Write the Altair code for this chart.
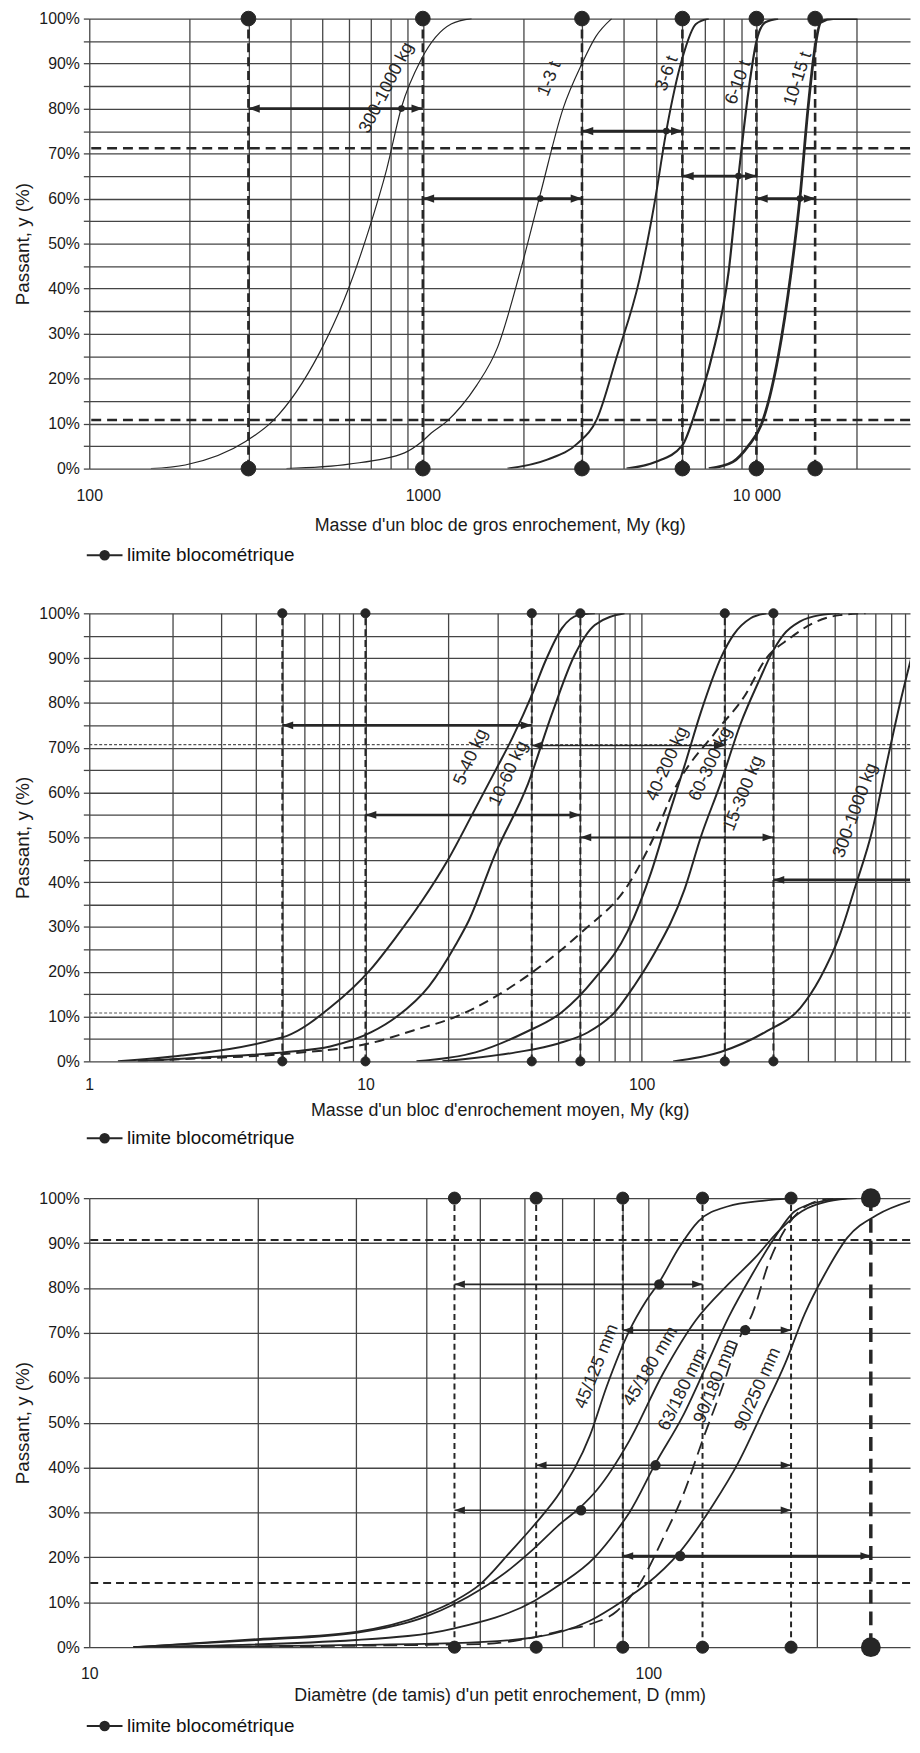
import altair as alt
import pandas as pd

FONT = "Liberation Sans"
INK = "#262626"
GRID = "#454545"
LEGEND_NAME = "limite blocométrique"
LEGEND_SYMBOL = "M-1,0L1,0M-0.24,0A0.24,0.24,0,1,1,0.24,0A0.24,0.24,0,1,1,-0.24,0Z"
RIGHT_HEAD = "M1,0L-1,-0.72L-1,0.72Z"
LEFT_HEAD = "M-1,0L1,-0.72L1,0.72Z"
PLOT_W = 828

# ======================= Panel 1 : gros enrochement (kg) =======================
p1_x_grid = [100, 200, 300, 400, 500, 600, 700, 800, 900, 1000,
             2000, 3000, 4000, 5000, 6000, 7000, 8000, 9000, 10000, 20000]
p1_y_grid = list(range(0, 101, 5))

c1_300_1000_m = [153, 194, 295, 355, 489, 580, 689, 779, 863, 990, 1216, 1400]
c1_300_1000_p = [0, 0.8, 6.1, 10.6, 25.6, 37.4, 53.1, 66.5, 80.3, 91, 98.8, 100]
c1_1_3_m = [390, 600, 881, 990, 1060, 1180, 1301, 1450, 1676, 1962, 2250, 2633, 3000, 3300, 3683]
c1_1_3_p = [0, 1, 3.5, 5.9, 7.9, 10.5, 13.8, 18.5, 27, 44, 61, 80, 90, 96, 100]
c1_3_6_m = [1795, 2360, 2898, 3325, 3812, 4460, 4950, 5369, 5988, 6590, 7200]
c1_3_6_p = [0, 2, 5.5, 11, 24.8, 42, 59, 75, 91, 98.8, 100]
c1_6_10_m = [4080, 5000, 5988, 6590, 7350, 8255, 8840, 9470, 10000, 10640, 11620]
c1_6_10_p = [0, 1.5, 5.1, 13, 24.8, 43.7, 65, 83.9, 94.9, 99.2, 100]
c1_10_15_m = [7200, 8500, 9470, 10350, 11620, 12710, 13510, 14280, 14970, 15600, 17000, 20100]
c1_10_15_p = [0, 1.5, 5.1, 9.8, 24.8, 43.7, 60.2, 80, 93.3, 99.2, 100, 100]

p1_limits = [300, 1000, 3000, 6000, 10000, 15000]
p1_hlines = [71.2, 10.8]
p1_arrow_from = [300, 1000, 3000, 6000, 10000]
p1_arrow_to = [1000, 3000, 6000, 10000, 15000]
p1_arrow_y = [80, 60, 75, 65, 60]
p1_arrow_w = [2.6, 2.6, 2.6, 2.6, 2.6]
p1_arrow_right = [1, 1, 1, 1, 1]
p1_arrow_dot = [863, 2250, 5369, 8840, 13510]
p1_label_text = ["300-1000 kg", "1-3 t", "3-6 t", "6-10 t", "10-15 t"]
p1_label_x = [779, 2400, 5400, 8842, 13340]
p1_label_y = [84.6, 86.6, 87.8, 85.8, 86.6]
p1_label_angle = [297, 292, 290, 290, 288]

# ======================= Panel 2 : enrochement moyen (kg) =======================
p2_x_grid = [1, 2, 3, 4, 5, 6, 7, 8, 9, 10, 20, 30, 40, 50, 60, 70, 80, 90,
             100, 200, 300, 400, 500, 600, 700, 800, 900]
p2_y_grid = list(range(0, 101, 5))

c2_5_40_m = [1.27, 2.16, 4.69, 5.2, 7.45, 10.5, 13, 15.9, 19.9, 24.5, 29.6, 34.1, 40.2, 44.8, 51.5, 58.9, 67.7]
c2_5_40_p = [0, 1.3, 4.9, 5.7, 12, 20.7, 28, 35.5, 45, 55.4, 65, 72.3, 82, 89.3, 96.7, 99.6, 100]
c2_10_60_m = [1.5, 2.5, 5.2, 7.45, 10.5, 13, 17, 21.3, 23.7, 29.6, 38.8, 47.3, 57.3, 67.7, 86.7]
c2_10_60_p = [0, 0.8, 2.1, 3.3, 6.5, 10, 16.8, 26.2, 31.5, 46.5, 62, 77.5, 90.8, 97.4, 100]
c2_15_300_m = [1.5, 2.2, 5.2, 10.5, 14.9, 21.3, 38.8, 60.5, 88.9, 111, 131, 187, 234, 283, 345, 417, 521, 647]
c2_15_300_p = [0, 0.5, 1.7, 4.1, 6.9, 10, 19.2, 28.8, 39.2, 50.2, 60.5, 73.8, 81.2, 90, 94.5, 97.8, 99.6, 100]
c2_40_200_m = [15.3, 25, 38, 51.5, 67.7, 88.9, 108, 124, 143, 164, 195, 215, 248, 283]
c2_40_200_p = [0, 2, 6.5, 11, 18.5, 29, 42, 54, 66, 78, 90.5, 95.2, 98.9, 100]
c2_60_300_m = [19, 35, 50, 64, 80, 94.3, 111, 143, 164, 193, 228, 269, 292, 326, 375, 442, 521]
c2_60_300_p = [0, 2, 4, 6.5, 11, 17, 24, 38.4, 50.2, 62, 75.3, 85.6, 90.4, 95.2, 98.2, 99.6, 100]
c2_300_1000_m = [130, 193, 283, 375, 442, 521, 595, 685, 762, 855, 953]
c2_300_1000_p = [0, 2.1, 6.7, 11.9, 18.5, 28.1, 39.2, 51.7, 65, 79, 90.8]

p2_limits = [5, 10, 40, 60, 200, 300]
p2_hlines = [70.7, 10.8]
p2_arrow_from = [5, 10, 40, 60, 300]
p2_arrow_to = [40, 60, 200, 300, 1000]
p2_arrow_y = [75, 55, 70.5, 50, 40.5]
p2_arrow_w = [2.6, 2.6, 1.3, 1.6, 2.6]
p2_arrow_right = [1, 1, 1, 1, 0]
p2_label_text = ["5-40 kg", "10-60 kg", "40-200 kg", "60-300 kg", "15-300 kg", "300-1000 kg"]
p2_label_x = [24.1, 33, 124, 178, 234, 595]
p2_label_y = [67.9, 64.2, 66.4, 66.4, 59.8, 56]
p2_label_angle = [294, 295, 294, 295, 292, 290]

# ======================= Panel 3 : petit enrochement (mm) =======================
p3_x_grid = [10, 20, 30, 40, 50, 60, 70, 80, 90, 100, 200]
p3_y_grid = list(range(0, 101, 10))

c3_45_125_m = [12, 20, 30, 40, 45, 50, 56.7, 62.5, 69.6, 78.6, 84.2, 92.5, 99.2, 104.6, 113.5, 123, 139, 160, 183]
c3_45_125_p = [0, 1.8, 3.4, 7.4, 10.3, 14, 21.3, 27.2, 34.6, 47.1, 58, 70.5, 77.2, 81.3, 89, 94.9, 98.2, 99.4, 100]
c3_45_180_m = [12, 20, 30, 40, 45, 50, 56.7, 62.5, 69.6, 75.8, 80.9, 92.5, 106.3, 121.6, 139.2, 155.4, 170.8, 188.2, 209.5, 236]
c3_45_180_p = [0, 1.6, 3.2, 6.8, 9.6, 12.8, 17.5, 22, 27.5, 31.3, 35, 46, 61, 72.8, 80.9, 86.8, 92.6, 97.1, 99.3, 100]
c3_63_180_m = [12, 30, 45, 62.5, 69.6, 80, 87.8, 92.5, 103.3, 115.3, 126.8, 139.2, 153.5, 166.6, 182.8, 204, 227]
c3_63_180_p = [0, 1.6, 4.2, 10.3, 14, 19.9, 26, 30, 41.2, 51.5, 62.5, 73.5, 83.1, 90.4, 97.1, 99.3, 100]
c3_90_180_m = [12, 50, 62.5, 70, 78.6, 87.8, 96.4, 106.3, 115.3, 125.2, 135.8, 145, 153.5, 163.9, 177.8, 196, 214]
c3_90_180_p = [0, 0.7, 2.2, 3.7, 5.1, 8, 14, 24.3, 33.8, 46.3, 58.1, 68.4, 74.3, 85.3, 94.1, 98.9, 100]
c3_90_250_m = [12, 45, 62.5, 78.6, 90, 99.2, 113.5, 130.4, 145, 159.8, 175.7, 190.5, 206.9, 227, 256.8, 298.5]
c3_90_250_p = [0, 0.9, 2.2, 5.9, 10.3, 14, 21, 31.6, 41.2, 52.2, 63.2, 74.3, 83.1, 91.2, 96.3, 99.6]

p3_limits = [45, 63, 90, 125, 180]
p3_big_limits = [250]
p3_hlines = [90.7, 14.3]
p3_arrow_from = [45, 90, 63, 45, 90]
p3_arrow_to = [125, 180, 180, 180, 250]
p3_arrow_y = [80.8, 70.6, 40.5, 30.5, 20.3]
p3_arrow_w = [1.6, 1.6, 1.6, 1.6, 2.6]
p3_arrow_right = [1, 1, 1, 1, 1]
p3_arrow_dot = [104.6, 149, 103, 75.8, 114]
p3_label_text = ["45/125 mm", "45/180 mm", "63/180 mm", "90/180 mm", "90/250 mm"]
p3_label_x = [80.9, 101, 115.3, 132, 157]
p3_label_y = [62.5, 62.5, 57.4, 59.2, 57.4]
p3_label_angle = [292, 301, 296, 292, 294]


def xenc(field, P):
    return alt.X(f"{field}:Q",
                 scale=alt.Scale(type="log", domain=P["xdomain"], nice=False, zero=False),
                 axis=alt.Axis(values=P["xgrid"], labelExpr=P["xlabels"], title=P["xtitle"],
                               grid=True, ticks=False, domain=False, labelOverlap=False,
                               labelFlush=False, labelPadding=P["xlabpad"],
                               titlePadding=P["xtitlepad"]))


def yenc(field, P):
    return alt.Y(f"{field}:Q",
                 scale=alt.Scale(domain=[0, 100], nice=False, zero=False),
                 axis=alt.Axis(values=P["ygrid"],
                               labelExpr="datum.value % 10 == 0 ? datum.value + '%' : ''",
                               title="Passant, y (%)", grid=True, tickSize=6, domain=False,
                               labelOverlap=False, labelPadding=4, titlePadding=6))


def build_panel(P):
    layers = []
    hdf = pd.DataFrame({"y": P["hlines"]})
    layers.append(alt.Chart(hdf).mark_rule(color=P["hcolor"], strokeWidth=P["hwidth"],
                                           strokeDash=P["hdash"]).encode(y=yenc("y", P)))
    n = len(P["limits"])
    ldf = pd.DataFrame({"x": P["limits"], "y0": [0] * n, "y1": [100] * n})
    layers.append(alt.Chart(ldf).mark_rule(color=INK, strokeWidth=P["lwidth"],
                                           strokeDash=P["ldash"]).encode(
        x=xenc("x", P), y=yenc("y0", P), y2=alt.Y2("y1")))
    if P.get("big"):
        nb = len(P["big"])
        bdf = pd.DataFrame({"x": P["big"], "y0": [0] * nb, "y1": [100] * nb})
        layers.append(alt.Chart(bdf).mark_rule(color=INK, strokeWidth=3.5,
                                               strokeDash=[14, 8]).encode(
            x=xenc("x", P), y=yenc("y0", P), y2=alt.Y2("y1")))
    for (m, p, w, dash) in P["curves"]:
        cdf = pd.DataFrame({"x": m, "y": p})
        mk = dict(color=INK, strokeWidth=w, interpolate="monotone", clip=True)
        if dash:
            mk["strokeDash"] = dash
        layers.append(alt.Chart(cdf).mark_line(**mk).encode(x=xenc("x", P), y=yenc("y", P)))
    adf = pd.DataFrame({"x": P["a_from"], "x2": P["a_to"], "y": P["a_y"], "w": P["a_w"],
                        "r": P["a_right"]})
    layers.append(alt.Chart(adf).mark_rule(color=INK, clip=True).encode(
        x=xenc("x", P), x2=alt.X2("x2"), y=yenc("y", P),
        strokeWidth=alt.StrokeWidth("w:Q", scale=None)))
    hs = P["headsize"]
    off = (hs ** 0.5) / 2
    layers.append(alt.Chart(adf).mark_point(shape=LEFT_HEAD, filled=True, size=hs, xOffset=off,
                                            color=INK, opacity=1).encode(
        x=xenc("x", P), y=yenc("y", P)))
    rdf = adf[adf["r"] == 1]
    layers.append(alt.Chart(rdf).mark_point(shape=RIGHT_HEAD, filled=True, size=hs, xOffset=-off,
                                            color=INK, opacity=1).encode(
        x=xenc("x2", P), y=yenc("y", P)))
    if P.get("a_dot"):
        mdf = pd.DataFrame({"x": P["a_dot"], "y": P["a_y"]})
        layers.append(alt.Chart(mdf).mark_point(filled=True, size=P["middot"], color=INK,
                                                opacity=1).encode(
            x=xenc("x", P), y=yenc("y", P)))
    ddf = pd.DataFrame({"x": P["limits"] * 2, "y": [0] * n + [100] * n,
                        "kind": [LEGEND_NAME] * (2 * n)})
    leg = alt.Legend(title=None, orient="none", legendX=-4, legendY=P["legy"],
                     symbolType=LEGEND_SYMBOL, symbolSize=1300, symbolStrokeWidth=2,
                     symbolStrokeColor=INK, symbolFillColor=INK, labelFontSize=19,
                     labelFont=FONT, labelColor="#111111", labelOffset=3, padding=0,
                     labelLimit=400)
    layers.append(alt.Chart(ddf).mark_point(filled=True, size=P["dotsize"], opacity=1,
                                            strokeWidth=1).encode(
        x=xenc("x", P), y=yenc("y", P),
        color=alt.Color("kind:N", scale=alt.Scale(range=[INK]), legend=leg),
        stroke=alt.Stroke("kind:N", scale=alt.Scale(range=[INK]), legend=leg)))
    if P.get("big"):
        nb = len(P["big"])
        bd = pd.DataFrame({"x": P["big"] * 2, "y": [0] * nb + [100] * nb})
        layers.append(alt.Chart(bd).mark_point(filled=True, size=400, color=INK, opacity=1).encode(
            x=xenc("x", P), y=yenc("y", P)))
    tdf = pd.DataFrame({"x": P["lab_x"], "y": P["lab_y"], "t": P["lab_t"], "a": P["lab_a"]})
    layers.append(alt.Chart(tdf).mark_text(font=FONT, fontSize=P["labsize"], color=INK).encode(
        x=xenc("x", P), y=yenc("y", P), text="t:N", angle=alt.Angle("a:Q", scale=None)))
    return alt.layer(*layers).properties(width=PLOT_W, height=P["height"])


P1 = dict(
    xdomain=[100, 28880], xgrid=p1_x_grid,
    xlabels="datum.value == 100 ? '100' : datum.value == 1000 ? '1000' : datum.value == 10000 ? '10 000' : ''",
    xtitle="Masse d'un bloc de gros enrochement, My (kg)", xlabpad=19, xtitlepad=13,
    ygrid=p1_y_grid, height=454,
    hlines=p1_hlines, hcolor=INK, hwidth=2.6, hdash=[10, 6],
    limits=p1_limits, lwidth=2.6, ldash=[9, 5],
    curves=[(c1_300_1000_m, c1_300_1000_p, 1.2, None),
            (c1_1_3_m, c1_1_3_p, 1.2, None),
            (c1_3_6_m, c1_3_6_p, 2.0, None),
            (c1_6_10_m, c1_6_10_p, 2.2, None),
            (c1_10_15_m, c1_10_15_p, 2.8, None)],
    a_from=p1_arrow_from, a_to=p1_arrow_to, a_y=p1_arrow_y, a_w=p1_arrow_w,
    a_right=p1_arrow_right, a_dot=p1_arrow_dot, middot=45, headsize=130,
    dotsize=220, legy=522,
    lab_x=p1_label_x, lab_y=p1_label_y, lab_t=p1_label_text, lab_a=p1_label_angle, labsize=18,
)

P2 = dict(
    xdomain=[1, 937], xgrid=p2_x_grid,
    xlabels="datum.value == 1 || datum.value == 10 || datum.value == 100 ? '' + datum.value : ''",
    xtitle="Masse d'un bloc d'enrochement moyen, My (kg)", xlabpad=15, xtitlepad=10,
    ygrid=p2_y_grid, height=452,
    hlines=p2_hlines, hcolor="#555555", hwidth=1.2, hdash=[3, 2],
    limits=p2_limits, lwidth=2.0, ldash=[7, 4],
    curves=[(c2_5_40_m, c2_5_40_p, 2.0, None),
            (c2_10_60_m, c2_10_60_p, 2.0, None),
            (c2_15_300_m, c2_15_300_p, 2.0, [10, 6]),
            (c2_40_200_m, c2_40_200_p, 2.0, None),
            (c2_60_300_m, c2_60_300_p, 2.0, None),
            (c2_300_1000_m, c2_300_1000_p, 2.0, None)],
    a_from=p2_arrow_from, a_to=p2_arrow_to, a_y=p2_arrow_y, a_w=p2_arrow_w,
    a_right=p2_arrow_right, a_dot=None, middot=0, headsize=120,
    dotsize=85, legy=510,
    lab_x=p2_label_x, lab_y=p2_label_y, lab_t=p2_label_text, lab_a=p2_label_angle, labsize=18,
)

P3 = dict(
    xdomain=[10, 293.8], xgrid=p3_x_grid,
    xlabels="datum.value == 10 || datum.value == 100 ? '' + datum.value : ''",
    xtitle="Diamètre (de tamis) d'un petit enrochement, D (mm)", xlabpad=19, xtitlepad=5,
    ygrid=p3_y_grid, height=453,
    hlines=p3_hlines, hcolor=INK, hwidth=2.0, hdash=[8, 5],
    limits=p3_limits, lwidth=2.0, ldash=[6, 4], big=p3_big_limits,
    curves=[(c3_45_125_m, c3_45_125_p, 1.8, None),
            (c3_45_180_m, c3_45_180_p, 1.8, None),
            (c3_63_180_m, c3_63_180_p, 1.8, None),
            (c3_90_180_m, c3_90_180_p, 1.8, [14, 7]),
            (c3_90_250_m, c3_90_250_p, 1.8, None)],
    a_from=p3_arrow_from, a_to=p3_arrow_to, a_y=p3_arrow_y, a_w=p3_arrow_w,
    a_right=p3_arrow_right, a_dot=p3_arrow_dot, middot=110, headsize=110,
    dotsize=150, legy=513,
    lab_x=p3_label_x, lab_y=p3_label_y, lab_t=p3_label_text, lab_a=p3_label_angle, labsize=18,
)

p1 = build_panel(P1)
p2 = build_panel(P2)
p3 = build_panel(P3)

chart = alt.vconcat(p1, p2, p3, spacing=40).resolve_scale(
    x="independent", y="independent", color="independent", stroke="independent"
).resolve_legend(color="independent", stroke="independent").properties(
    padding={"left": 6, "top": -7, "right": 0, "bottom": 0}
).configure(font=FONT).configure_axis(
    labelFont=FONT, titleFont=FONT, labelFontSize=16, titleFontSize=18,
    labelColor="#1a1a1a", titleColor="#1a1a1a", titleFontWeight="normal",
    gridColor=GRID, gridWidth=1.3, gridOpacity=1, tickColor=GRID, tickWidth=1.3
).configure_axisY(titleFontSize=19).configure_view(stroke=None)

chart.save("out.html", embed_options={"renderer": "svg", "actions": False})
